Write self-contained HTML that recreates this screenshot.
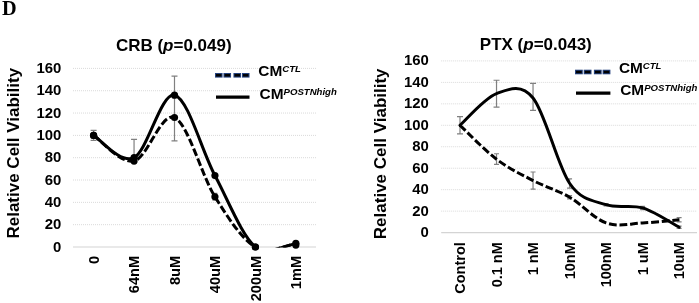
<!DOCTYPE html>
<html lang="en"><head><meta charset="utf-8"><title>Figure D</title>
<style>html,body{margin:0;padding:0;background:#fff}svg{display:block}text{fill:#000}</style></head>
<body>
<svg width="699" height="303" viewBox="0 0 699 303">
<rect width="699" height="303" fill="#fff"/>
<defs><clipPath id="cl"><rect x="73.0" y="50" width="243.0" height="197.60"/></clipPath>
<clipPath id="cr"><rect x="441.2" y="50" width="255.8" height="183.10"/></clipPath></defs>
<text x="2.1" y="14.7" style="font-family:&quot;Liberation Serif&quot;,Times,serif;font-weight:bold;font-size:20.3px">D</text>
<line x1="73.0" x2="316.0" y1="224.68" y2="224.68" stroke="#dadada" stroke-width="1" stroke-dasharray="1 1"/>
<line x1="73.0" x2="316.0" y1="202.35" y2="202.35" stroke="#dadada" stroke-width="1" stroke-dasharray="1 1"/>
<line x1="73.0" x2="316.0" y1="180.03" y2="180.03" stroke="#dadada" stroke-width="1" stroke-dasharray="1 1"/>
<line x1="73.0" x2="316.0" y1="157.70" y2="157.70" stroke="#dadada" stroke-width="1" stroke-dasharray="1 1"/>
<line x1="73.0" x2="316.0" y1="135.38" y2="135.38" stroke="#dadada" stroke-width="1" stroke-dasharray="1 1"/>
<line x1="73.0" x2="316.0" y1="113.05" y2="113.05" stroke="#dadada" stroke-width="1" stroke-dasharray="1 1"/>
<line x1="73.0" x2="316.0" y1="90.72" y2="90.72" stroke="#dadada" stroke-width="1" stroke-dasharray="1 1"/>
<line x1="73.0" x2="316.0" y1="68.40" y2="68.40" stroke="#dadada" stroke-width="1" stroke-dasharray="1 1"/>
<line x1="73.0" x2="316.0" y1="247.00" y2="247.00" stroke="#d4d4d4" stroke-width="1.2"/>
<text x="61.3" y="251.53" text-anchor="end" style="font-family:&quot;Liberation Sans&quot;,Arial,Helvetica,sans-serif;font-weight:bold;font-size:14.9px">0</text>
<text x="61.3" y="229.21" text-anchor="end" style="font-family:&quot;Liberation Sans&quot;,Arial,Helvetica,sans-serif;font-weight:bold;font-size:14.9px">20</text>
<text x="61.3" y="206.88" text-anchor="end" style="font-family:&quot;Liberation Sans&quot;,Arial,Helvetica,sans-serif;font-weight:bold;font-size:14.9px">40</text>
<text x="61.3" y="184.56" text-anchor="end" style="font-family:&quot;Liberation Sans&quot;,Arial,Helvetica,sans-serif;font-weight:bold;font-size:14.9px">60</text>
<text x="61.3" y="162.23" text-anchor="end" style="font-family:&quot;Liberation Sans&quot;,Arial,Helvetica,sans-serif;font-weight:bold;font-size:14.9px">80</text>
<text x="61.3" y="139.91" text-anchor="end" style="font-family:&quot;Liberation Sans&quot;,Arial,Helvetica,sans-serif;font-weight:bold;font-size:14.9px">100</text>
<text x="61.3" y="117.58" text-anchor="end" style="font-family:&quot;Liberation Sans&quot;,Arial,Helvetica,sans-serif;font-weight:bold;font-size:14.9px">120</text>
<text x="61.3" y="95.26" text-anchor="end" style="font-family:&quot;Liberation Sans&quot;,Arial,Helvetica,sans-serif;font-weight:bold;font-size:14.9px">140</text>
<text x="61.3" y="72.93" text-anchor="end" style="font-family:&quot;Liberation Sans&quot;,Arial,Helvetica,sans-serif;font-weight:bold;font-size:14.9px">160</text>
<text transform="translate(98.83,255.90) rotate(-90)" text-anchor="end" style="font-family:&quot;Liberation Sans&quot;,Arial,Helvetica,sans-serif;font-weight:bold;font-size:14.6px">0</text>
<text transform="translate(139.28,255.90) rotate(-90)" text-anchor="end" style="font-family:&quot;Liberation Sans&quot;,Arial,Helvetica,sans-serif;font-weight:bold;font-size:14.6px">64nM</text>
<text transform="translate(179.73,255.90) rotate(-90)" text-anchor="end" style="font-family:&quot;Liberation Sans&quot;,Arial,Helvetica,sans-serif;font-weight:bold;font-size:14.6px">8uM</text>
<text transform="translate(220.18,255.90) rotate(-90)" text-anchor="end" style="font-family:&quot;Liberation Sans&quot;,Arial,Helvetica,sans-serif;font-weight:bold;font-size:14.6px">40uM</text>
<text transform="translate(260.63,255.90) rotate(-90)" text-anchor="end" style="font-family:&quot;Liberation Sans&quot;,Arial,Helvetica,sans-serif;font-weight:bold;font-size:14.6px">200uM</text>
<text transform="translate(301.08,255.90) rotate(-90)" text-anchor="end" style="font-family:&quot;Liberation Sans&quot;,Arial,Helvetica,sans-serif;font-weight:bold;font-size:14.6px">1mM</text>
<text transform="translate(18.7,153.2) rotate(-90)" text-anchor="middle" style="font-family:&quot;Liberation Sans&quot;,Arial,Helvetica,sans-serif;font-weight:bold;font-size:17px">Relative Cell Viability</text>
<text x="173.75" y="50.5" text-anchor="middle" style="font-family:&quot;Liberation Sans&quot;,Arial,Helvetica,sans-serif;font-weight:bold;font-size:17px">CRB (<tspan style="font-style:italic">p</tspan>=0.049)</text>
<path d="M93.60,130.35 V140.40 M90.60,130.35 H96.60 M90.60,140.40 H96.60" stroke="#808080" stroke-width="1.2" fill="none"/>
<path d="M134.05,139.28 V161.05 M131.05,139.28 H137.05 M131.05,161.05 H137.05" stroke="#808080" stroke-width="1.2" fill="none"/>
<path d="M174.50,76.21 V140.96 M171.50,76.21 H177.50 M171.50,140.96 H177.50" stroke="#808080" stroke-width="1.2" fill="none"/>
<path d="M214.95,193.42 V200.12 M212.45,193.42 H217.45 M212.45,200.12 H217.45" stroke="#808080" stroke-width="1.2" fill="none"/>
<g clip-path="url(#cl)">
<path d="M93.60,135.38 C100.34,139.65 120.57,164.03 134.05,161.05 C147.53,158.07 161.02,111.56 174.50,117.52 C187.98,123.47 201.47,175.19 214.95,196.77 C228.43,218.35 241.92,239.24 255.40,247.00 C268.88,257.76 266.85,251.97 271.85,250.47 L295.85,243.32" fill="none" stroke="#000" stroke-width="3" stroke-dasharray="7.8 2.8"/>
<path d="M93.60,135.38 C100.34,139.10 120.57,164.40 134.05,157.70 C147.53,151.00 161.02,92.21 174.50,95.19 C187.98,98.17 201.47,150.26 214.95,175.56 C228.43,200.86 241.92,235.71 255.40,247.00 C268.88,261.29 266.85,251.97 271.85,250.47 L295.85,243.32" fill="none" stroke="#000" stroke-width="3" stroke-linecap="round"/>
</g>
<circle cx="93.60" cy="135.38" r="3.6" fill="#000"/>
<circle cx="134.05" cy="161.05" r="3.6" fill="#000"/>
<circle cx="174.50" cy="117.52" r="3.6" fill="#000"/>
<circle cx="214.95" cy="196.77" r="3.6" fill="#000"/>
<circle cx="255.40" cy="247.00" r="3.6" fill="#000"/>
<circle cx="295.85" cy="245.10" r="3.6" fill="#000"/>
<circle cx="93.60" cy="135.38" r="3.6" fill="#000"/>
<circle cx="134.05" cy="157.70" r="3.6" fill="#000"/>
<circle cx="174.50" cy="95.19" r="3.6" fill="#000"/>
<circle cx="214.95" cy="175.56" r="3.6" fill="#000"/>
<circle cx="255.40" cy="247.00" r="3.6" fill="#000"/>
<circle cx="295.85" cy="243.32" r="3.6" fill="#000"/>
<rect x="215.00" y="73.00" width="7.58" height="4.6" fill="#26437f"/>
<rect x="223.47" y="73.00" width="7.58" height="4.6" fill="#26437f"/>
<rect x="233.45" y="73.00" width="7.58" height="4.6" fill="#26437f"/>
<rect x="241.93" y="73.00" width="7.58" height="4.6" fill="#26437f"/>
<rect x="216.05" y="74.05" width="5.48" height="2.5" fill="#000"/>
<rect x="224.53" y="74.05" width="5.48" height="2.5" fill="#000"/>
<rect x="234.50" y="74.05" width="5.48" height="2.5" fill="#000"/>
<rect x="242.98" y="74.05" width="5.48" height="2.5" fill="#000"/>
<line x1="216.00" x2="249.50" y1="97.05" y2="97.05" stroke="#000" stroke-width="3.2"/>
<text x="258.3" y="76.30" style="font-family:&quot;Liberation Sans&quot;,Arial,Helvetica,sans-serif;font-weight:bold;font-size:15.4px">CM<tspan dy="-4.23" style="font-style:italic;font-size:9.6px">CTL</tspan></text>
<text x="259.6" y="98.85" style="font-family:&quot;Liberation Sans&quot;,Arial,Helvetica,sans-serif;font-weight:bold;font-size:15.4px">CM<tspan dy="-4.23" style="font-style:italic;font-size:9.6px">POSTNhigh</tspan></text>
<line x1="441.2" x2="697.0" y1="211.14" y2="211.14" stroke="#dadada" stroke-width="1" stroke-dasharray="1 1"/>
<line x1="441.2" x2="697.0" y1="189.68" y2="189.68" stroke="#dadada" stroke-width="1" stroke-dasharray="1 1"/>
<line x1="441.2" x2="697.0" y1="168.22" y2="168.22" stroke="#dadada" stroke-width="1" stroke-dasharray="1 1"/>
<line x1="441.2" x2="697.0" y1="146.76" y2="146.76" stroke="#dadada" stroke-width="1" stroke-dasharray="1 1"/>
<line x1="441.2" x2="697.0" y1="125.30" y2="125.30" stroke="#dadada" stroke-width="1" stroke-dasharray="1 1"/>
<line x1="441.2" x2="697.0" y1="103.84" y2="103.84" stroke="#dadada" stroke-width="1" stroke-dasharray="1 1"/>
<line x1="441.2" x2="697.0" y1="82.38" y2="82.38" stroke="#dadada" stroke-width="1" stroke-dasharray="1 1"/>
<line x1="441.2" x2="697.0" y1="60.92" y2="60.92" stroke="#dadada" stroke-width="1" stroke-dasharray="1 1"/>
<line x1="441.2" x2="697.0" y1="232.60" y2="232.60" stroke="#d4d4d4" stroke-width="1.2"/>
<text x="428.9" y="237.13" text-anchor="end" style="font-family:&quot;Liberation Sans&quot;,Arial,Helvetica,sans-serif;font-weight:bold;font-size:14.9px">0</text>
<text x="428.9" y="215.67" text-anchor="end" style="font-family:&quot;Liberation Sans&quot;,Arial,Helvetica,sans-serif;font-weight:bold;font-size:14.9px">20</text>
<text x="428.9" y="194.21" text-anchor="end" style="font-family:&quot;Liberation Sans&quot;,Arial,Helvetica,sans-serif;font-weight:bold;font-size:14.9px">40</text>
<text x="428.9" y="172.75" text-anchor="end" style="font-family:&quot;Liberation Sans&quot;,Arial,Helvetica,sans-serif;font-weight:bold;font-size:14.9px">60</text>
<text x="428.9" y="151.29" text-anchor="end" style="font-family:&quot;Liberation Sans&quot;,Arial,Helvetica,sans-serif;font-weight:bold;font-size:14.9px">80</text>
<text x="428.9" y="129.83" text-anchor="end" style="font-family:&quot;Liberation Sans&quot;,Arial,Helvetica,sans-serif;font-weight:bold;font-size:14.9px">100</text>
<text x="428.9" y="108.37" text-anchor="end" style="font-family:&quot;Liberation Sans&quot;,Arial,Helvetica,sans-serif;font-weight:bold;font-size:14.9px">120</text>
<text x="428.9" y="86.91" text-anchor="end" style="font-family:&quot;Liberation Sans&quot;,Arial,Helvetica,sans-serif;font-weight:bold;font-size:14.9px">140</text>
<text x="428.9" y="65.45" text-anchor="end" style="font-family:&quot;Liberation Sans&quot;,Arial,Helvetica,sans-serif;font-weight:bold;font-size:14.9px">160</text>
<text transform="translate(465.19,242.20) rotate(-90)" text-anchor="end" style="font-family:&quot;Liberation Sans&quot;,Arial,Helvetica,sans-serif;font-weight:bold;font-size:14.5px">Control</text>
<text transform="translate(501.71,242.20) rotate(-90)" text-anchor="end" style="font-family:&quot;Liberation Sans&quot;,Arial,Helvetica,sans-serif;font-weight:bold;font-size:14.5px">0.1 nM</text>
<text transform="translate(538.23,242.20) rotate(-90)" text-anchor="end" style="font-family:&quot;Liberation Sans&quot;,Arial,Helvetica,sans-serif;font-weight:bold;font-size:14.5px">1 nM</text>
<text transform="translate(574.75,242.20) rotate(-90)" text-anchor="end" style="font-family:&quot;Liberation Sans&quot;,Arial,Helvetica,sans-serif;font-weight:bold;font-size:14.5px">10nM</text>
<text transform="translate(611.27,242.20) rotate(-90)" text-anchor="end" style="font-family:&quot;Liberation Sans&quot;,Arial,Helvetica,sans-serif;font-weight:bold;font-size:14.5px">100nM</text>
<text transform="translate(647.79,242.20) rotate(-90)" text-anchor="end" style="font-family:&quot;Liberation Sans&quot;,Arial,Helvetica,sans-serif;font-weight:bold;font-size:14.5px">1 uM</text>
<text transform="translate(684.31,242.20) rotate(-90)" text-anchor="end" style="font-family:&quot;Liberation Sans&quot;,Arial,Helvetica,sans-serif;font-weight:bold;font-size:14.5px">10uM</text>
<text transform="translate(385.7,153.8) rotate(-90)" text-anchor="middle" style="font-family:&quot;Liberation Sans&quot;,Arial,Helvetica,sans-serif;font-weight:bold;font-size:17px">Relative Cell Viability</text>
<text x="535.8" y="50.2" text-anchor="middle" style="font-family:&quot;Liberation Sans&quot;,Arial,Helvetica,sans-serif;font-weight:bold;font-size:17px">PTX (<tspan style="font-style:italic">p</tspan>=0.043)</text>
<path d="M460.00,116.72 V133.88 M457.00,116.72 H463.00 M457.00,133.88 H463.00" stroke="#808080" stroke-width="1.2" fill="none"/>
<path d="M496.52,80.23 V107.06 M493.52,80.23 H499.52 M493.52,107.06 H499.52" stroke="#808080" stroke-width="1.2" fill="none"/>
<path d="M533.04,83.45 V110.28 M530.04,83.45 H536.04 M530.04,110.28 H536.04" stroke="#808080" stroke-width="1.2" fill="none"/>
<path d="M496.52,153.73 V164.46 M494.02,153.73 H499.02 M494.02,164.46 H499.02" stroke="#808080" stroke-width="1.2" fill="none"/>
<path d="M533.04,171.98 V189.14 M530.54,171.98 H535.54 M530.54,189.14 H535.54" stroke="#808080" stroke-width="1.2" fill="none"/>
<path d="M569.56,178.95 V188.07 M567.06,178.95 H572.06 M567.06,188.07 H572.06" stroke="#808080" stroke-width="1.2" fill="none"/>
<path d="M569.56,195.58 V198.80 M567.06,195.58 H572.06 M567.06,198.80 H572.06" stroke="#808080" stroke-width="1.2" fill="none"/>
<path d="M606.08,203.63 V205.78 M603.58,203.63 H608.58 M603.58,205.78 H608.58" stroke="#808080" stroke-width="1.2" fill="none"/>
<path d="M642.60,206.31 V209.53 M640.10,206.31 H645.10 M640.10,209.53 H645.10" stroke="#808080" stroke-width="1.2" fill="none"/>
<path d="M679.12,217.58 V221.87 M676.62,217.58 H681.62 M676.62,221.87 H681.62" stroke="#808080" stroke-width="1.2" fill="none"/>
<path d="M679.12,226.16 V228.31 M676.62,226.16 H681.62 M676.62,228.31 H681.62" stroke="#808080" stroke-width="1.2" fill="none"/>
<g clip-path="url(#cr)">
<path d="M460.00,125.30 C466.09,130.95 484.35,150.00 496.52,159.21 C508.69,168.42 520.87,174.23 533.04,180.56 C545.21,186.89 557.39,190.13 569.56,197.19 C581.73,204.25 593.91,218.65 606.08,222.94 C618.25,227.23 630.43,223.48 642.60,222.94 C654.77,222.41 673.03,220.26 679.12,219.72" fill="none" stroke="#000" stroke-width="3" stroke-dasharray="7.8 2.8"/>
<path d="M460.00,125.30 C466.09,120.02 484.35,98.21 496.52,93.65 C508.69,89.09 520.87,83.01 533.04,97.94 C545.21,112.87 557.39,165.45 569.56,183.24 C581.73,201.04 593.91,200.59 606.08,204.70 C618.25,208.82 630.43,204.17 642.60,207.92 C654.77,211.68 673.03,224.02 679.12,227.23" fill="none" stroke="#000" stroke-width="3" stroke-linecap="round"/>
</g>
<rect x="575.00" y="69.70" width="7.80" height="4.6" fill="#26437f"/>
<rect x="583.70" y="69.70" width="7.80" height="4.6" fill="#26437f"/>
<rect x="593.90" y="69.70" width="7.80" height="4.6" fill="#26437f"/>
<rect x="602.60" y="69.70" width="7.80" height="4.6" fill="#26437f"/>
<rect x="576.05" y="70.75" width="5.70" height="2.5" fill="#000"/>
<rect x="584.75" y="70.75" width="5.70" height="2.5" fill="#000"/>
<rect x="594.95" y="70.75" width="5.70" height="2.5" fill="#000"/>
<rect x="603.65" y="70.75" width="5.70" height="2.5" fill="#000"/>
<line x1="576.00" x2="610.40" y1="93.20" y2="93.20" stroke="#000" stroke-width="3.2"/>
<text x="618.9" y="73.00" style="font-family:&quot;Liberation Sans&quot;,Arial,Helvetica,sans-serif;font-weight:bold;font-size:15.4px">CM<tspan dy="-4.23" style="font-style:italic;font-size:9.6px">CTL</tspan></text>
<text x="620.2" y="95.00" style="font-family:&quot;Liberation Sans&quot;,Arial,Helvetica,sans-serif;font-weight:bold;font-size:15.4px">CM<tspan dy="-4.23" style="font-style:italic;font-size:9.6px">POSTNhigh</tspan></text>
</svg>
</body></html>
